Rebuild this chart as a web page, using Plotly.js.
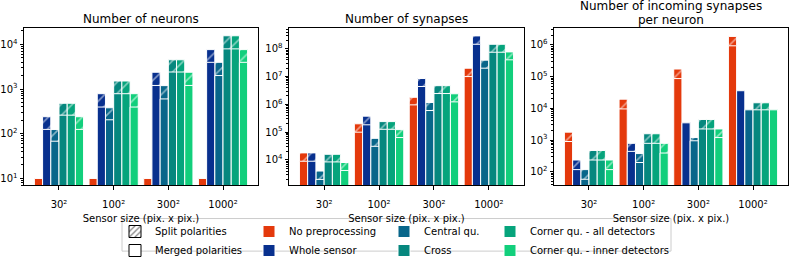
<!DOCTYPE html>
<html><head><meta charset="utf-8">
<script src="https://cdn.plot.ly/plotly-3.0.1.min.js"></script>
<style>html,body{margin:0;padding:0;background:#fff}#chart{width:793px;height:265px}</style>
</head><body><div id="chart"></div>
<script>
// ---- data ----
const sensorSizes = ['30²', '100²', '300²', '1000²'];
const seriesNames = ['No preprocessing', 'Whole sensor', 'Central qu.', 'Cross',
                     'Corner qu. - all detectors', 'Corner qu. - inner detectors'];
const seriesColors = ['#e4390c', '#08308e', '#08668a', '#06877e', '#06a47c', '#12cf7c'];

// rows follow seriesNames order, columns follow sensorSizes
const neuronsMerged = [
  [10, 10, 10, 10],
  [125, 395, 1200, 3950],
  [68, 205, 600, 2000],
  [260, 785, 2400, 7900],
  [260, 785, 2400, 7900],
  [125, 395, 1200, 3950]
];
const neuronsSplit = [
  [10, 10, 10, 10],
  [240, 785, 2370, 7600],
  [124, 380, 1190, 3950],
  [480, 1510, 4500, 15500],
  [480, 1510, 4500, 15500],
  [240, 785, 2370, 7600]
];
const synapsesMerged = [
  [9000, 100000, 960000, 1.0e7],
  [9000, 184000, 4.4e6, 1.45e8],
  [2000, 31000, 600000, 2.0e7],
  [8500, 127000, 2.45e6, 7.5e7],
  [8500, 127000, 2.45e6, 7.5e7],
  [4200, 64000, 1.23e6, 4.0e7]
];
const synapsesSplit = [
  [18000, 200000, 1.8e6, 2.0e7],
  [18000, 377000, 8.5e6, 2.9e8],
  [4000, 60000, 1.17e6, 3.9e7],
  [16000, 240000, 4.7e6, 1.45e8],
  [16000, 240000, 4.7e6, 1.45e8],
  [8100, 123000, 2.4e6, 7.7e7]
];
const incomingMerged = [
  [900, 9600, 87000, 940000],
  [117, 440, 3500, 36000],
  [58, 196, 950, 9000],
  [235, 790, 2240, 9000],
  [235, 790, 2240, 9000],
  [117, 390, 1200, 9000]
];
const incomingSplit = [
  [1780, 19500, 174000, 1.86e6],
  [235, 790, 3500, 36000],
  [117, 375, 1200, 9000],
  [470, 1580, 4470, 15000],
  [470, 1580, 4470, 15000],
  [235, 790, 2240, 9000]
];
const panelTitles = [['Number of neurons'], ['Number of synapses'],
                     ['Number of incoming synapses', 'per neuron']];
const xTitle = 'Sensor size (pix. x pix.)';

// ---- layout helpers ----
const W = 793, H = 265;
const FONT = 'DejaVu Sans, Verdana, sans-serif';
const px = v => v / W;
const py = v => 1 - v / H;
const panels = [
  {merged: neuronsMerged, split: neuronsSplit, x0: 24, x1: 258, range: [0.843, 4.358],
   tickvals: [1e1, 1e2, 1e3, 1e4], exps: [1, 2, 3, 4]},
  {merged: synapsesMerged, split: synapsesSplit, x0: 289, x1: 524, range: [3.083, 8.737],
   tickvals: [1e4, 1e5, 1e6, 1e7, 1e8], exps: [4, 5, 6, 7, 8]},
  {merged: incomingMerged, split: incomingSplit, x0: 554, x1: 788, range: [1.568, 6.526],
   tickvals: [1e2, 1e3, 1e4, 1e5, 1e6], exps: [2, 3, 4, 5, 6]}
];
const legendOf = ['legend2', 'legend2', 'legend3', 'legend3', 'legend4', 'legend4'];
const barW = 0.15;

const traces = [];
panels.forEach((p, pi) => {
  const xa = pi === 0 ? 'x' : 'x' + (pi + 1);
  const ya = pi === 0 ? 'y' : 'y' + (pi + 1);
  // split polarities (hatched) first
  seriesNames.forEach((name, i) => {
    traces.push({
      type: 'bar', x: sensorSizes, y: p.split[i], xaxis: xa, yaxis: ya,
      width: barW, offset: -3 * barW + i * barW,
      marker: {color: seriesColors[i], line: {color: 'white', width: 1},
               pattern: {shape: '/', fgcolor: 'white', bgcolor: seriesColors[i],
                         fillmode: 'overlay', size: 8, solidity: 0.2}},
      showlegend: false, hoverinfo: 'skip', name: name + ' (split)'
    });
  });
  // merged polarities (solid) on top
  seriesNames.forEach((name, i) => {
    traces.push({
      type: 'bar', x: sensorSizes, y: p.merged[i], xaxis: xa, yaxis: ya,
      width: barW, offset: -3 * barW + i * barW,
      marker: {color: seriesColors[i], line: {color: 'white', width: 1}},
      showlegend: pi === 0, legend: legendOf[i], name: name, hoverinfo: 'skip'
    });
  });
});
// legend keys for the polarity styles
traces.push({type: 'bar', x: [null], y: [null], name: 'Split polarities', legend: 'legend',
  marker: {color: 'white', line: {color: 'black', width: 1},
           pattern: {shape: '/', fgcolor: 'black', bgcolor: 'white', fillmode: 'overlay', size: 5, solidity: 0.3}}});
traces.push({type: 'bar', x: [null], y: [null], name: 'Merged polarities', legend: 'legend',
  marker: {color: 'white', line: {color: 'black', width: 1}}});

const layout = {
  width: W, height: H,
  margin: {l: 0, r: 0, t: 0, b: 0},
  paper_bgcolor: 'white', plot_bgcolor: 'white',
  font: {family: FONT, size: 10, color: 'black'},
  barmode: 'overlay', showlegend: true,
  annotations: [], shapes: []
};
panels.forEach((p, pi) => {
  const sfx = pi === 0 ? '' : String(pi + 1);
  layout['xaxis' + sfx] = {
    domain: [px(p.x0), px(p.x1)], anchor: 'y' + sfx, type: 'category',
    range: [-0.64, 3.64], showline: true, mirror: true, linecolor: 'black', linewidth: 1,
    ticks: 'outside', ticklen: 3.5, tickcolor: 'black', showgrid: false, zeroline: false,
    tickfont: {size: 10}, ticklabelstandoff: 6, fixedrange: true,
    title: {text: xTitle, font: {size: 10}, standoff: 6}
  };
  layout['yaxis' + sfx] = {
    domain: [py(193.5), py(29.5)], anchor: 'x' + sfx, type: 'log',
    range: p.range, autorange: false,
    showline: true, mirror: true, linecolor: 'black', linewidth: 1,
    ticks: 'outside', ticklen: 3.5, tickcolor: 'black', showgrid: false, zeroline: false,
    tickmode: 'array', tickvals: p.tickvals,
    ticktext: p.exps.map(e => '10<sup>' + e + '</sup>'),
    tickfont: {size: 10},
    minor: {ticks: 'outside', ticklen: 2, tickcolor: 'black', dtick: 'D1', showgrid: false},
    fixedrange: true
  };
  const lines = panelTitles[pi];
  const centers = lines.length === 2 ? [6.5, 20.5] : [19.5];
  lines.forEach((t, li) => {
    layout.annotations.push({
      text: t, xref: 'paper', yref: 'paper',
      x: px((p.x0 + p.x1) / 2), y: py(centers[li]),
      xanchor: 'center', yanchor: 'middle', showarrow: false,
      font: {size: 12, family: FONT, color: 'black'}
    });
  });
});
// legend frame
layout.shapes.push({type: 'rect', xref: 'paper', yref: 'paper',
  x0: px(122), x1: px(671), y0: py(262), y1: py(228),
  line: {color: '#cccccc', width: 1}, fillcolor: 'white', layer: 'below'});
const legBase = {orientation: 'v', xanchor: 'left', yanchor: 'top', y: py(226.5),
  bgcolor: 'rgba(0,0,0,0)', borderwidth: 0, itemwidth: 30, tracegroupgap: 0,
  font: {family: FONT, size: 10, color: 'black'}, itemclick: false, itemdoubleclick: false};
layout.legend = Object.assign({}, legBase, {x: px(115)});
layout.legend2 = Object.assign({}, legBase, {x: px(249)});
layout.legend3 = Object.assign({}, legBase, {x: px(384)});
layout.legend4 = Object.assign({}, legBase, {x: px(490)});

Plotly.newPlot('chart', traces, layout, {displayModeBar: false, staticPlot: true});
</script>
</body></html>
